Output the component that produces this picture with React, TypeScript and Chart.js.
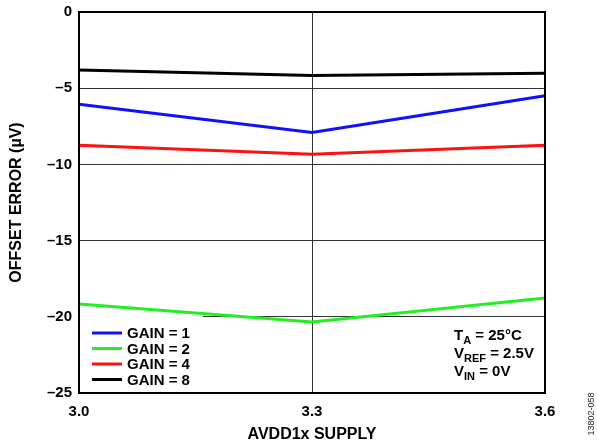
import React, { useEffect, useRef } from 'react';
import { Chart, registerables } from 'chart.js';

Chart.register(...registerables);

const supplies = ['3.0', '3.3', '3.6'];
const gain1 = [-6.06, -7.9, -5.5];
const gain2 = [-19.16, -20.34, -18.77];
const gain4 = [-8.75, -9.34, -8.75];
const gain8 = [-3.8, -4.16, -4.02];
const seriesLabels = ['GAIN = 1', 'GAIN = 2', 'GAIN = 4', 'GAIN = 8'];
const seriesColors = ['#1010ff', '#22ee22', '#ff1010', '#000000'];
const yMin = -25;
const yMax = 0;
const yStep = 5;
const xTitle = 'AVDD1x SUPPLY';
const yTitle = 'OFFSET ERROR (\u00B5V)';
const conditions: [string, string, string][] = [
  ['T', 'A', ' = 25\u00B0C'],
  ['V', 'REF', ' = 2.5V'],
  ['V', 'IN', ' = 0V'],
];
const figureId = '13802-058';

const FONT = "Arial, 'Liberation Sans', Helvetica, sans-serif";

const overlayPlugin = {
  id: 'overlay',
  beforeDatasetsDraw(chart: any) {
    const { ctx, chartArea, scales } = chart;
    const y20 = scales.y.getPixelForValue(-20);
    ctx.save();
    ctx.fillStyle = '#ffffff';
    ctx.fillRect(chartArea.left + 1, y20 - 2, 123, chartArea.bottom - y20 + 1);
    ctx.restore();
  },
  afterDatasetsDraw(chart: any) {
    const { ctx, chartArea } = chart;
    ctx.save();
    // plot frame
    ctx.strokeStyle = '#000';
    ctx.lineWidth = 2;
    ctx.strokeRect(chartArea.left, chartArea.top, chartArea.right - chartArea.left, chartArea.bottom - chartArea.top);

    // legend
    ctx.font = `bold 15px ${FONT}`;
    ctx.textBaseline = 'middle';
    ctx.textAlign = 'left';
    const lx = chartArea.left + 13;
    seriesLabels.forEach((lab, i) => {
      const y = chartArea.bottom - 60 + i * 15.5;
      ctx.strokeStyle = seriesColors[i];
      ctx.lineWidth = 3;
      ctx.beginPath();
      ctx.moveTo(lx, y);
      ctx.lineTo(lx + 30, y);
      ctx.stroke();
      ctx.fillStyle = '#000';
      ctx.fillText(lab, lx + 35, y + 1);
    });

    // conditions
    ctx.textBaseline = 'alphabetic';
    const cx = chartArea.right - 91;
    conditions.forEach((c, i) => {
      const base = chartArea.bottom - 53 + i * 18;
      let x = cx;
      ctx.font = `bold 15px ${FONT}`;
      ctx.fillText(c[0], x, base);
      x += ctx.measureText(c[0]).width;
      ctx.font = `bold 11px ${FONT}`;
      ctx.fillText(c[1], x, base + 4);
      x += ctx.measureText(c[1]).width;
      ctx.font = `bold 15px ${FONT}`;
      ctx.fillText(c[2], x, base);
    });

    // figure id
    ctx.font = `9px ${FONT}`;
    ctx.fillStyle = '#222';
    ctx.textAlign = 'center';
    ctx.textBaseline = 'middle';
    ctx.translate(592, 414);
    ctx.rotate(-Math.PI / 2);
    ctx.fillText(figureId, 0, 0);
    ctx.restore();
  },
};

export default function App() {
  const ref = useRef<HTMLCanvasElement>(null);
  useEffect(() => {
    if (!ref.current) return;
    const datasets = [gain1, gain2, gain4, gain8].map((d, i) => ({
      label: seriesLabels[i],
      data: d,
      borderColor: seriesColors[i],
      backgroundColor: seriesColors[i],
      borderWidth: 3,
      pointRadius: 0,
      tension: 0,
      fill: false,
    }));
    const chart = new Chart(ref.current, {
      type: 'line',
      data: { labels: supplies, datasets },
      plugins: [overlayPlugin],
      options: {
        animation: false,
        responsive: false,
        devicePixelRatio: 1,
        layout: { padding: { top: 12, right: 52, left: 0, bottom: 0 } },
        plugins: { legend: { display: false }, tooltip: { enabled: false } },
        scales: {
          x: {
            type: 'category',
            offset: false,
            grid: { color: '#333', lineWidth: 1, drawTicks: false, offset: false },
            border: { color: '#000', width: 2 },
            ticks: { color: '#000', font: { family: FONT, size: 15, weight: 'bold' }, padding: 10, maxRotation: 0 },
            title: { display: true, text: xTitle, color: '#000', font: { family: FONT, size: 16, weight: 'bold' }, padding: { top: 0, bottom: 0 } },
            afterFit: (s: any) => { s.height = 51; s.paddingLeft = 0; s.paddingRight = 0; },
          },
          y: {
            min: yMin,
            max: yMax,
            grid: { color: '#333', lineWidth: 1, drawTicks: false },
            border: { color: '#000', width: 2 },
            ticks: {
              stepSize: yStep,
              color: '#000',
              font: { family: FONT, size: 15, weight: 'bold' },
              padding: 7,
              callback: (v: any) => (v < 0 ? '\u2013' + Math.abs(v) : String(v)),
            },
            title: { display: true, text: yTitle, color: '#000', font: { family: FONT, size: 16, weight: 'bold' }, padding: { top: 7, bottom: 0 } },
            afterFit: (s: any) => { s.width = 79; s.paddingTop = 0; s.paddingBottom = 0; },
          },
        },
      },
    } as any);
    return () => chart.destroy();
  }, []);
  return (
    <div style={{ position: 'absolute', left: 0, top: 0, width: 597, height: 444, background: '#fff' }}>
      <canvas ref={ref} width={597} height={444} />
    </div>
  );
}
